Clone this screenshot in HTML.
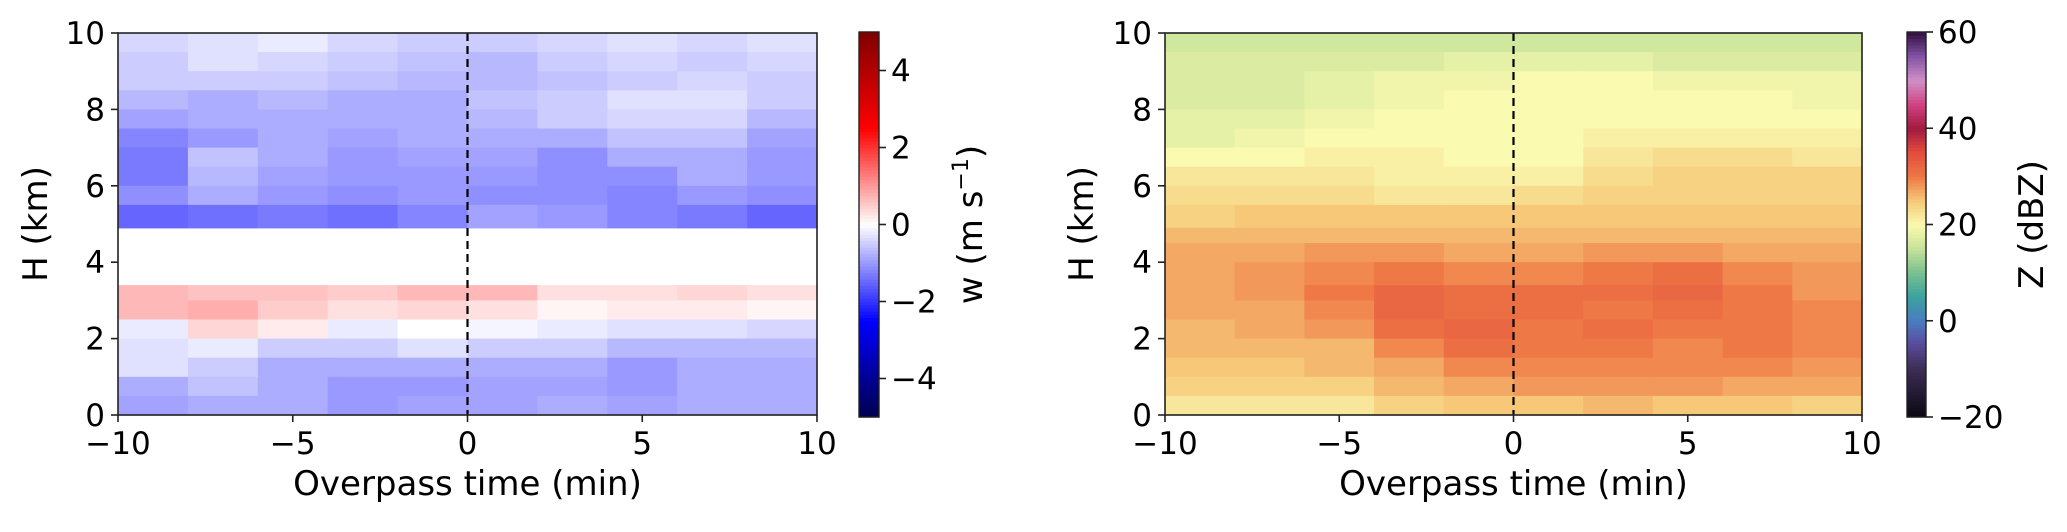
<!DOCTYPE html>
<html><head><meta charset="utf-8">
<style>
html,body{margin:0;padding:0;background:#fff;}
svg{display:block;font-family:"DejaVu Sans","Liberation Sans",sans-serif;}
</style></head>
<body>
<svg id="fig" width="2067" height="532" viewBox="0 0 2067 532" xmlns="http://www.w3.org/2000/svg">
<g id="p1"></g>
<g id="p2"></g>
</svg>
<script>
// shared axis data
const xTicks = [-10, -5, 0, 5, 10];
const yTicks = [0, 2, 4, 6, 8, 10];
const rowEdgesTop = [10,9.5,9,8.5,8,7.5,7,6.5,6,5.5,4.9,4.5,4,3.4,3,2.5,2,1.5,1,0.5,0];
const colEdges = [-10,-8,-6,-4,-2,0,2,4,6,8,10];
// vertical velocity w (m/s), rows top->bottom, null = no data
const wValues = [
[-0.4,-0.3,-0.2,-0.4,-0.5,-0.5,-0.4,-0.3,-0.4,-0.3],
[-0.5,-0.3,-0.4,-0.5,-0.6,-0.7,-0.5,-0.4,-0.5,-0.4],
[-0.5,-0.5,-0.5,-0.6,-0.7,-0.7,-0.6,-0.5,-0.4,-0.5],
[-0.7,-0.8,-0.7,-0.8,-0.8,-0.6,-0.5,-0.3,-0.3,-0.5],
[-0.9,-0.8,-0.8,-0.8,-0.8,-0.7,-0.5,-0.4,-0.4,-0.7],
[-1.2,-1.0,-0.8,-0.9,-0.8,-0.8,-0.8,-0.6,-0.6,-0.9],
[-1.3,-0.6,-0.8,-1.0,-0.9,-0.9,-1.1,-0.8,-0.8,-1.0],
[-1.3,-0.7,-0.9,-1.0,-1.0,-1.0,-1.1,-1.1,-0.8,-1.0],
[-1.1,-0.8,-1.0,-1.1,-1.0,-1.1,-1.1,-1.2,-1.0,-1.1],
[-1.5,-1.4,-1.3,-1.4,-1.2,-0.9,-1.0,-1.2,-1.3,-1.5],
[null,null,null,null,null,null,null,null,null,null],
[null,null,null,null,null,null,null,null,null,null],
[null,null,null,null,null,null,null,null,null,null],
[0.7,0.6,0.6,0.5,0.7,0.7,0.3,0.3,0.4,0.3],
[0.7,0.8,0.5,0.3,0.4,0.3,0.1,0.2,0.2,0.1],
[-0.2,0.4,0.2,-0.2,0.0,-0.1,-0.2,-0.3,-0.3,-0.4],
[-0.3,-0.2,-0.5,-0.5,-0.3,-0.5,-0.5,-0.7,-0.7,-0.7],
[-0.3,-0.5,-0.8,-0.8,-0.8,-0.8,-0.8,-1.0,-0.8,-0.8],
[-0.8,-0.6,-0.8,-1.0,-1.0,-0.9,-0.9,-1.0,-0.8,-0.8],
[-0.9,-0.8,-0.8,-1.0,-0.9,-0.9,-0.8,-0.9,-0.8,-0.8]
];
// reflectivity Z (dBZ), rows top->bottom
const zValues = [
[16,16,16,16,16,16,16,16,16,16],
[17,17,17,17,18,18,18,17,17,17],
[17,17,18,19,19,20,20,19,19,19],
[17,17,18,19,20,20,20,20,20,19],
[18,18,19,20,20,20,20,20,20,20],
[18,19,20,20,20,20,21,21,21,21],
[20,20,21,21,20,20,22,23,23,22],
[22,22,22,21,21,21,23,24,24,24],
[23,23,23,22,22,23,24,24,24,24],
[24,25,25,25,25,25,25,25,25,25],
[26,26,26,26,26,26,26,26,26,26],
[27,27,28,28,27,27,28,28,27,27],
[27,28,29,30,29,29,30,31,29,28],
[27,28,30,32,31,31,31,32,30,28],
[27,27,29,32,31,31,30,31,30,29],
[26,27,28,31,32,30,31,30,30,29],
[26,26,26,29,31,30,30,29,30,29],
[25,25,26,27,29,29,29,29,29,28],
[24,24,24,26,27,28,28,28,27,27],
[22,22,22,24,25,25,26,25,25,24]
];
const wTicks = [-4,-2,0,2,4];
const zTicks = [-20,0,20,40,60];

const NS="http://www.w3.org/2000/svg";
function mk(parent, tag, attrs){const e=document.createElementNS(NS,tag);for(const k in attrs)e.setAttribute(k,attrs[k]);parent.appendChild(e);return e;}
function lerpStops(stops,t){t=Math.max(0,Math.min(1,t));for(let i=1;i<stops.length;i++){if(t<=stops[i][0]){const a=stops[i-1],b=stops[i];const f=(t-a[0])/(b[0]-a[0]||1);const c=[0,1,2].map(k=>Math.round(a[1][k]+(b[1][k]-a[1][k])*f));return `rgb(${c[0]},${c[1]},${c[2]})`;}}const l=stops[stops.length-1][1];return `rgb(${l[0]},${l[1]},${l[2]})`;}
const seismic=[[0,[0,0,77]],[0.25,[0,0,255]],[0.5,[255,255,255]],[0.75,[255,0,0]],[1,[128,0,0]]];
const zmap=[[0,[10,8,16]],[0.125,[60,45,85]],[0.19,[90,75,155]],[0.25,[74,124,192]],[0.31,[58,160,160]],[0.375,[120,192,144]],[0.44,[200,228,154]],[0.5,[250,250,176]],[0.5625,[246,200,120]],[0.625,[238,120,70]],[0.69,[225,75,60]],[0.75,[160,26,64]],[0.81,[208,64,128]],[0.875,[208,144,200]],[0.94,[128,80,160]],[1,[48,16,64]]];

function panel(g, cfg){
  const {x0,x1,y0,y1,values,cmap,vmin,vmax,cbx,cbw,cbTicks,cbLabel,ylabX,ytickX,cblabX}=cfg;
  const sx=v=>x0+(v+10)/20*(x1-x0);
  const sy=v=>y1-(v/10)*(y1-y0);
  const cells=mk(g,'g',{});
  
  
  for(let r=0;r<values.length;r++){for(let c=0;c<values[r].length;c++){
    const v=values[r][c]; if(v===null) continue;
    const xa=sx(colEdges[c]), xb=sx(colEdges[c+1]), ya=sy(rowEdgesTop[r]), yb=sy(rowEdgesTop[r+1]);
    const rc=mk(cells,'rect',{x:xa,y:ya,width:xb-xa+0.6,height:yb-ya+0.6,fill:cmap((v-vmin)/(vmax-vmin))});
    
    
  }}
  const dl=mk(g,'line',{x1:sx(0),x2:sx(0),y1:y0,y2:y1,stroke:'#000','stroke-width':2.2,'stroke-dasharray':'8,5'});
  
  
  const fr=mk(g,'rect',{x:x0,y:y0,width:x1-x0,height:y1-y0,fill:'none',stroke:'#222','stroke-width':1.6});
  
  
  xTicks.forEach(t=>{const x=sx(t);mk(g,'line',{x1:x,x2:x,y1:y1,y2:y1+7,stroke:'#222','stroke-width':1.6});
    const tx=mk(g,'text',{x:x,y:454,'font-size':31,'text-anchor':'middle',fill:'#000'});tx.textContent=(t<0?'\u2212'+(-t):t);
    
    });
  yTicks.forEach(t=>{const y=sy(t);mk(g,'line',{x1:x0-7,x2:x0,y1:y,y2:y,stroke:'#222','stroke-width':1.6});
    const tx=mk(g,'text',{x:ytickX,y:y+11,'font-size':31,'text-anchor':'end',fill:'#000'});tx.textContent=t;
    
    });
  const xl=mk(g,'text',{x:(x0+x1)/2,y:495,'font-size':34,'text-anchor':'middle',fill:'#000'});xl.textContent='Overpass time (min)';
  
  
  const yl=mk(g,'text',{x:0,y:0,'font-size':34,'text-anchor':'middle',fill:'#000',transform:`translate(${ylabX},${(y0+y1)/2}) rotate(-90)`});yl.textContent='H (km)';
  
  
  const cb=mk(g,'g',{});
  
  
  const cy0=32,cy1=417,N=120;
  for(let i=0;i<N;i++){const ya=cy1-(i+1)/N*(cy1-cy0);mk(cb,'rect',{x:cbx,y:ya,width:cbw,height:(cy1-cy0)/N+0.6,fill:cmap((i+0.5)/N)});}
  mk(cb,'rect',{x:cbx,y:cy0,width:cbw,height:cy1-cy0,fill:'none',stroke:'#222','stroke-width':1.4});
  cbTicks.forEach(t=>{const y=cy1-(t-vmin)/(vmax-vmin)*(cy1-cy0);mk(cb,'line',{x1:cbx+cbw,x2:cbx+cbw+7,y1:y,y2:y,stroke:'#222','stroke-width':1.6});
    const tx=mk(cb,'text',{x:cbx+cbw+12,y:y+11,'font-size':31,fill:'#000'});tx.textContent=(t<0?'\u2212'+(-t):t);
    
    });
  const cl=mk(cb,'text',{x:0,y:0,'font-size':34,'text-anchor':'middle',fill:'#000',transform:`translate(${cblabX},${(cy0+cy1)/2}) rotate(-90)`});
  cl.innerHTML=cbLabel;
  
  
}
panel(document.getElementById('p1'),{x0:118,x1:817,y0:33,y1:415,values:wValues,cmap:t=>lerpStops(seismic,t),vmin:-5,vmax:5,cbx:859,cbw:20,cbTicks:wTicks,cbLabel:'w (m s<tspan font-size="22" dy="-14">\u22121</tspan><tspan dy="14">)</tspan>',ylabX:47,ytickX:105,cblabX:982});
panel(document.getElementById('p2'),{x0:1165,x1:1862,y0:33,y1:415,values:zValues,cmap:t=>lerpStops(zmap,t),vmin:-20,vmax:60,cbx:1907,cbw:19,cbTicks:zTicks,cbLabel:'Z (dBZ)',ylabX:1093,ytickX:1152,cblabX:2043});
</script>
</body></html>
